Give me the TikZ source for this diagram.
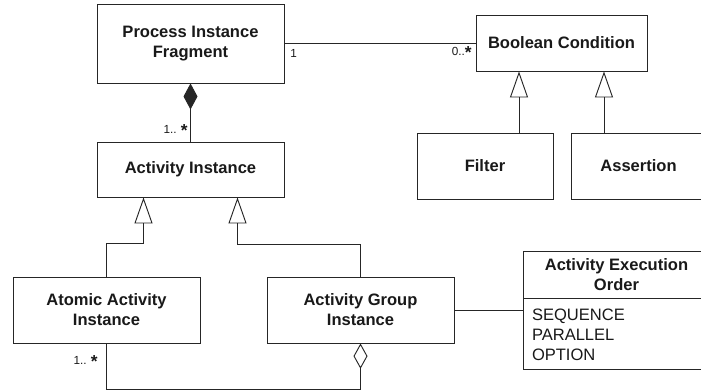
\documentclass[tikz,border=0pt]{standalone}
\usepackage{fontspec}
\setmainfont{Liberation Sans}
\usetikzlibrary{arrows.meta,calc}
\newcommand{\mstar}{\raisebox{-2.6pt}{\fontsize{13}{13}\selectfont\bfseries *}}
\begin{document}
\begin{tikzpicture}[x=0.75pt,y=-0.75pt,
  ln/.style={draw=black!85, line width=0.7pt},
  box/.style={ln, rectangle, inner sep=0pt, align=center, font=\fontsize{12.4}{15}\selectfont\bfseries, text=black!90},
  wh/.style 2 args={minimum width=#1*0.75pt, minimum height=#2*0.75pt},
  mult/.style={font=\fontsize{8.8}{10}\selectfont, inner sep=0pt, text=black!90},
  gen/.style={ln, -{Triangle[open, length=19.5pt, width=13.5pt]}},
  comp/.style={ln, {Diamond[length=19.5pt, width=10.5pt]}-},
  aggr/.style={ln, {Diamond[open, length=19pt, width=10.5pt]}-},
]
\useasboundingbox (0,0) rectangle (701,392);
\clip (0,0) rectangle (701,392);
\fill[white] (0,0) rectangle (701,392);

\node[box, wh={187}{79}] (PIF) at (190.5,43.5) {Process Instance\\Fragment};
\node[box, wh={187}{55}] (AI) at (190.5,169.5) {Activity Instance};
\node[box, wh={171}{56}] (BC) at (561.5,43) {Boolean Condition};
\node[box, wh={136}{66}] (FI) at (485,166) {Filter};
\node[box, wh={135}{66}] (AS) at (638.5,166) {Assertion};
\node[box, wh={187}{66}] (AAI) at (106.5,310) {Atomic Activity\\Instance};
\node[box, wh={187}{66}] (AGI) at (360.5,310) {Activity Group\\Instance};
\node[box, wh={187}{47}] (AEO) at (616.5,274.5) {Activity Execution\\Order};
\node[box, wh={187}{71}, anchor=north, font=\fontsize{12.4}{15}\selectfont, text width=169*0.75pt, align=left] (AEOa) at (AEO.south) {SEQUENCE\\PARALLEL\\OPTION};

% association
\draw[ln] (PIF.east |- 0,43) -- (BC.west |- 0,43);
\node[mult, anchor=west] (m1) at (290,53) {1};
\node[mult, anchor=east] (m2) at (472,53) {0..\mstar};

% composition
\draw[comp] (PIF.south) -- (AI.north);
\node[mult, anchor=east] (m3) at (188,131) {1.. \mstar};

% generalizations
\draw[gen] (FI.north -| 519,0) -- (BC.south -| 519,0);
\draw[gen] (AS.north -| 604,0) -- (BC.south -| 604,0);
\draw[gen] (AAI.north) -- ++(0,-33) -| ($(AI.south)+(-47,0)$);
\draw[gen] (AGI.north) -- ++(0,-32) -| ($(AI.south)+(47,0)$);

% aggregation
\draw[aggr] (AGI.south) -- ++(0,46) -| (AAI.south);
\node[mult, anchor=east] (m4) at (98,362) {1.. \mstar};

% AGI -- AEO
\draw[ln] (AGI.east) -- (AGI.east -| AEOa.west);
\end{tikzpicture}
\end{document}
